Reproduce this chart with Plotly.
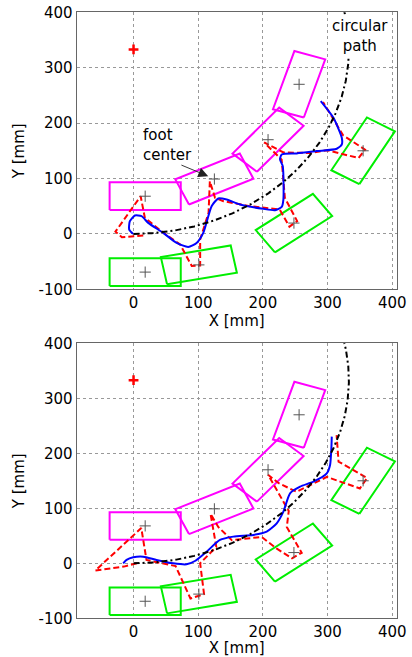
import numpy as np
import plotly.graph_objects as go

# ---------------- data (mm) ----------------
# left foot (magenta) placements: centre and heading (deg)
LEFT_CX = [18, 125, 208, 256]
LEFT_CY = [68, 99, 170, 270]
LEFT_ANG = [0, 25, 49, 72.5]
# right foot (green) placements
RIGHT_CX = [18, 101, 248, 355]
RIGHT_CY = [-69, -56, 19.5, 150]
RIGHT_ANG = [0, 11, 36.5, 60]
FOOT_LENGTH = 110
FOOT_WIDTH = 50

# circular reference path (centre marked by the red +)
CIRCLE_CX, CIRCLE_CY, CIRCLE_R = 0, 333, 333
ARC_START_DEG, ARC_END_DEG = -90, 14

# top panel: reference ZMP (red dashed) and measured ZMP (blue)
TOP_RED_X = [15, -18, -28, 11, 17.5, 45, 72, 90, 103, 103, 116, 118, 126, 139, 180, 226,
             241, 253, 234, 229, 202, 232, 272, 299, 348, 358, 324, 293]
TOP_RED_Y = [-3, -6, 4, 68, 29, 3, -19, -58, -57, -10, 38, 95, 65, 59, 50, 44,
             13, 23, 65, 134, 165, 147, 146, 151, 137, 152, 178, 238]
TOP_BLUE_X = [-0.5, -6.7, -5.7, 2.1, 12.4, 22.7, 45.9, 66.6, 84.6, 97.5, 107.8, 120.7, 131,
              144, 164.6, 200.7, 218.8, 229.1, 231.7, 230.7, 226.5, 229.1, 252.3, 283.3,
              314.2, 322, 322, 309.1, 289.5]
TOP_BLUE_Y = [0, 7.8, 22.9, 33.1, 31.9, 19.9, 1.8, -16.3, -23.5, -16.3, 1.8, 50, 63.9,
              62, 53, 45.2, 42.8, 48.8, 62, 122.3, 134.3, 143.4, 145.2, 149.4,
              153.6, 161.4, 173.5, 209.6, 239.8]

# bottom panel
BOT_RED_X = [5, -15, -59, 12, 20, 65, 88, 109, 103, 128, 119, 131, 152, 198, 221, 245,
             260, 237, 240, 208, 224, 252, 299, 350, 361, 317, 314]
BOT_RED_Y = [0, -6, -13, 64, 6, -5, -64, -56, 0, 30, 90, 66, 42, 48, 27, 9,
             19, 66, 95, 161, 146, 130, 157, 136, 155, 185, 233]
BOT_BLUE_X = [-16, -10.8, -0.5, 15, 35.6, 61.4, 82, 95, 113, 133.6, 154.3, 185.2, 205.9,
              221.4, 231.7, 242, 257.5, 278.1, 298.8, 303.9, 306, 306.5]
BOT_BLUE_Y = [0, 6.1, 10.9, 12.1, 6.1, 0, -1.8, 4.2, 21.2, 42.4, 48.5, 51.5, 57.6,
              72.7, 93.9, 127.3, 139.4, 148.5, 163.6, 178.8, 212, 230.3]

TICK_X = [0, 100, 200, 300, 400]
TICK_X_TEXT = ["0", "100", "200", "300", "400"]
TICK_Y = [-100, 0, 100, 200, 300, 400]
TICK_Y_TEXT = ["-100", "0", "100", "200", "300", "400"]

# ---------------- helpers ----------------
FONT = "DejaVu Sans"


def foot_outline(cx, cy, ang_deg):
    a = np.radians(ang_deg)
    u = np.array([np.cos(a), np.sin(a)])
    v = np.array([-np.sin(a), np.cos(a)])
    c = np.array([cx, cy])
    hl, hw = FOOT_LENGTH / 2, FOOT_WIDTH / 2
    pts = [c - hl * u - hw * v, c + hl * u - hw * v, c + hl * u + hw * v,
           c - hl * u + hw * v, c - hl * u - hw * v]
    return [p[0] for p in pts], [p[1] for p in pts]


theta = np.radians(np.linspace(ARC_START_DEG, ARC_END_DEG, 300))
ARC_X = CIRCLE_CX + CIRCLE_R * np.cos(theta)
ARC_Y = CIRCLE_CY + CIRCLE_R * np.sin(theta)

fig = go.Figure()


def add_panel(xa, ya, red_x, red_y, blue_x, blue_y):
    for cxs, cys, angs, col in [(LEFT_CX, LEFT_CY, LEFT_ANG, "#FF00FF"),
                                (RIGHT_CX, RIGHT_CY, RIGHT_ANG, "#00EE00")]:
        for cx, cy, an in zip(cxs, cys, angs):
            fx, fy = foot_outline(cx, cy, an)
            fig.add_trace(go.Scatter(x=fx, y=fy, mode="lines", xaxis=xa, yaxis=ya,
                                     line=dict(color=col, width=2), showlegend=False,
                                     hoverinfo="skip"))
    fig.add_trace(go.Scatter(x=red_x, y=red_y, mode="lines", xaxis=xa, yaxis=ya,
                             line=dict(color="#FF0000", width=2, dash="6px,3px"),
                             showlegend=False))
    fig.add_trace(go.Scatter(x=blue_x, y=blue_y, mode="lines", xaxis=xa, yaxis=ya,
                             line=dict(color="#0000FF", width=2, shape="spline",
                                       smoothing=0.6),
                             showlegend=False))
    fig.add_trace(go.Scatter(x=ARC_X, y=ARC_Y, mode="lines", xaxis=xa, yaxis=ya,
                             line=dict(color="#000000", width=2,
                                       dash="6px,3px,2px,3px"),
                             showlegend=False))
    fig.add_trace(go.Scatter(x=LEFT_CX + RIGHT_CX, y=LEFT_CY + RIGHT_CY, mode="markers",
                             xaxis=xa, yaxis=ya,
                             marker=dict(symbol="cross-thin", size=8,
                                         line=dict(color="#555555", width=1)),
                             showlegend=False))
    fig.add_trace(go.Scatter(x=[CIRCLE_CX], y=[CIRCLE_CY], mode="markers",
                             xaxis=xa, yaxis=ya,
                             marker=dict(symbol="cross-thin", size=7,
                                         line=dict(color="#FF0000", width=2.5)),
                             showlegend=False))


add_panel("x", "y", TOP_RED_X, TOP_RED_Y, TOP_BLUE_X, TOP_BLUE_Y)
add_panel("x2", "y2", BOT_RED_X, BOT_RED_Y, BOT_BLUE_X, BOT_BLUE_Y)

axis_common = dict(showline=True, mirror=True, linecolor="#666666", linewidth=1,
                   showgrid=True, gridcolor="#999999", griddash="dot", gridwidth=1,
                   zeroline=False, ticks="", automargin=False,
                   tickfont=dict(family=FONT, size=15, color="#000"),
                   title_font=dict(family=FONT, size=15, color="#000"))

XDOM = [0.186, 0.963]
XR = [-88, 407]
YR = [-100, 400]
for xn, yn, ydom in [("xaxis", "yaxis", [0.5597, 0.9813]),
                     ("xaxis2", "yaxis2", [0.0589, 0.4775])]:
    ya_id = "y" if yn == "yaxis" else "y2"
    xa_id = "x" if xn == "xaxis" else "x2"
    fig.layout[xn] = dict(domain=XDOM, range=XR, anchor=ya_id, tickvals=TICK_X,
                          ticktext=TICK_X_TEXT, title=dict(text="X [mm]", standoff=3),
                          **axis_common)
    fig.layout[yn] = dict(domain=ydom, range=YR, anchor=xa_id, tickvals=TICK_Y,
                          ticktext=TICK_Y_TEXT, title=dict(text="Y [mm]", standoff=10),
                          **axis_common)

fig.add_annotation(x=115.5, y=104, ax=71.7, ay=125.3, xref="x", yref="y",
                   axref="x", ayref="y", text="", showarrow=True, arrowhead=2,
                   arrowsize=2.2, arrowwidth=0.9, arrowcolor="#222")
fig.add_annotation(x=10.8, y=161, xref="x", yref="y", text="foot<br>center",
                   showarrow=False, xanchor="left", yanchor="middle", align="left",
                   font=dict(family=FONT, size=15, color="#000"))
fig.add_annotation(x=350, y=357, xref="x", yref="y", text="circular<br>path",
                   showarrow=False, xanchor="center", yanchor="middle", align="center",
                   bgcolor="#FFFFFF", font=dict(family=FONT, size=15, color="#000"))

fig.update_layout(width=412, height=657, margin=dict(l=0, r=0, t=0, b=0),
                  paper_bgcolor="#FFFFFF", plot_bgcolor="#FFFFFF",
                  font=dict(family=FONT))

fig.write_html("out.html")
